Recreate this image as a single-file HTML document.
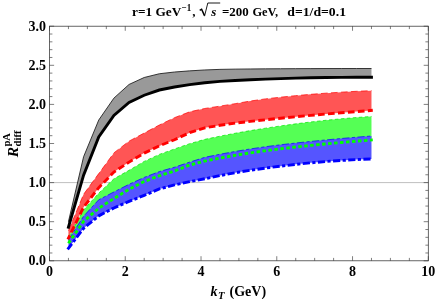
<!DOCTYPE html>
<html><head><meta charset="utf-8"><title>plot</title>
<style>
html,body{margin:0;padding:0;background:#fff;}
body{width:436px;height:299px;overflow:hidden;}
svg{display:block;will-change:transform;}
text{font-family:"Liberation Serif",serif;font-weight:bold;fill:#000;}
.t{font-size:14px;}
</style></head><body>
<svg width="436" height="299" viewBox="0 0 436 299">
<rect width="436" height="299" fill="#fff"/>
<line x1="49.50" y1="182.60" x2="428.30" y2="182.60" stroke="#aaaaaa" stroke-width="0.75"/>
<path d="M68.44 221.70 L83.59 156.79 L98.74 120.04 L113.90 98.14 L129.05 84.46 L144.20 77.50 L159.35 73.75 L174.50 72.03 L189.66 70.87 L204.81 69.96 L219.96 69.39 L235.11 69.14 L250.26 68.98 L265.42 68.85 L280.57 68.75 L295.72 68.67 L310.87 68.61 L326.02 68.56 L341.18 68.53 L356.33 68.51 L371.48 68.51 L371.48 77.19 L356.33 77.22 L341.18 77.33 L326.02 77.52 L310.87 77.78 L295.72 78.14 L280.57 78.59 L265.42 79.12 L250.26 79.75 L235.11 80.47 L219.96 81.36 L204.81 82.75 L189.66 84.65 L174.50 86.96 L159.35 90.01 L144.20 95.25 L129.05 102.52 L113.90 115.43 L98.74 136.85 L83.59 175.17 L68.44 227.17Z" fill="#999999" stroke="none"/>
<path d="M68.44 230.69 L83.59 194.33 L98.74 173.61 L113.90 152.88 L129.05 141.15 L144.20 133.05 L159.35 125.00 L174.50 117.66 L189.66 111.83 L204.81 108.48 L219.96 106.13 L235.11 103.68 L250.26 101.05 L265.42 98.88 L280.57 97.17 L295.72 95.65 L310.87 94.32 L326.02 93.16 L341.18 92.16 L356.33 91.32 L371.48 90.64 L371.48 110.42 L356.33 111.57 L341.18 112.77 L326.02 114.02 L310.87 115.34 L295.72 116.73 L280.57 118.20 L265.42 119.77 L250.26 121.36 L235.11 123.12 L219.96 125.27 L204.81 127.86 L189.66 132.67 L174.50 139.72 L159.35 145.88 L144.20 153.11 L129.05 162.11 L113.90 172.04 L98.74 187.68 L83.59 207.23 L68.44 238.12Z" fill="#ff5555" stroke="none"/>
<path d="M68.44 237.34 L83.59 209.97 L98.74 193.16 L113.90 178.85 L129.05 170.30 L144.20 161.40 L159.35 154.38 L174.50 149.00 L189.66 143.68 L204.81 139.37 L219.96 136.19 L235.11 133.28 L250.26 130.61 L265.42 128.19 L280.57 125.95 L295.72 123.86 L310.87 121.96 L326.02 120.27 L341.18 118.80 L356.33 117.54 L371.48 116.44 L371.48 139.98 L356.33 141.20 L341.18 142.50 L326.02 143.90 L310.87 145.40 L295.72 147.02 L280.57 148.78 L265.42 150.72 L250.26 152.89 L235.11 155.34 L219.96 158.05 L204.81 161.08 L189.66 165.04 L174.50 170.96 L159.35 175.75 L144.20 181.48 L129.05 189.30 L113.90 198.47 L98.74 208.25 L83.59 221.31 L68.44 243.21Z" fill="#55ff55" stroke="none"/>
<path d="M68.44 240.08 L83.59 216.23 L98.74 199.80 L113.90 191.98 L129.05 184.34 L144.20 177.41 L159.35 171.61 L174.50 167.20 L189.66 162.14 L204.81 157.33 L219.96 154.25 L235.11 151.47 L250.26 148.94 L265.42 146.73 L280.57 144.78 L295.72 143.02 L310.87 141.41 L326.02 139.91 L341.18 138.51 L356.33 137.21 L371.48 135.99 L371.48 158.91 L356.33 159.59 L341.18 160.44 L326.02 161.50 L310.87 162.82 L295.72 164.37 L280.57 166.15 L265.42 168.08 L250.26 170.26 L235.11 172.76 L219.96 175.61 L204.81 178.78 L189.66 181.67 L174.50 184.92 L159.35 188.96 L144.20 195.34 L129.05 201.43 L113.90 207.94 L98.74 215.84 L83.59 228.35 L68.44 248.29Z" fill="#5555ff" stroke="none"/>
<path d="M68.44 221.70 L83.59 156.79 L98.74 120.04 L113.90 98.14 L129.05 84.46 L144.20 77.50 L159.35 73.75 L174.50 72.03 L189.66 70.87 L204.81 69.96 L219.96 69.39 L235.11 69.14 L250.26 68.98 L265.42 68.85 L280.57 68.75 L295.72 68.67 L310.87 68.61 L326.02 68.56 L341.18 68.53 L356.33 68.51 L371.48 68.51" fill="none" stroke="#222222" stroke-width="0.9"/>
<path d="M68.44 230.69 L83.59 194.33 L98.74 173.61 L113.90 152.88 L129.05 141.15 L144.20 133.05 L159.35 125.00 L174.50 117.66 L189.66 111.83 L204.81 108.48 L219.96 106.13 L235.11 103.68 L250.26 101.05 L265.42 98.88 L280.57 97.17 L295.72 95.65 L310.87 94.32 L326.02 93.16 L341.18 92.16 L356.33 91.32 L371.48 90.64" fill="none" stroke="#ff0000" stroke-width="0.7" stroke-dasharray="6.7 3.3"/>
<path d="M68.44 237.34 L83.59 209.97 L98.74 193.16 L113.90 178.85 L129.05 170.30 L144.20 161.40 L159.35 154.38 L174.50 149.00 L189.66 143.68 L204.81 139.37 L219.96 136.19 L235.11 133.28 L250.26 130.61 L265.42 128.19 L280.57 125.95 L295.72 123.86 L310.87 121.96 L326.02 120.27 L341.18 118.80 L356.33 117.54 L371.48 116.44" fill="none" stroke="#00e800" stroke-width="0.7" stroke-dasharray="3.5 2.5"/>
<path d="M68.44 240.08 L83.59 216.23 L98.74 199.80 L113.90 191.98 L129.05 184.34 L144.20 177.41 L159.35 171.61 L174.50 167.20 L189.66 162.14 L204.81 157.33 L219.96 154.25 L235.11 151.47 L250.26 148.94 L265.42 146.73 L280.57 144.78 L295.72 143.02 L310.87 141.41 L326.02 139.91 L341.18 138.51 L356.33 137.21 L371.48 135.99" fill="none" stroke="#0000ff" stroke-width="0.7" stroke-dasharray="7.2 2.4 3.2 2.4"/>
<path d="M68.44 227.17 L83.59 175.17 L98.74 136.85 L113.90 115.43 L129.05 102.52 L144.20 95.25 L159.35 90.01 L174.50 86.96 L189.66 84.65 L204.81 82.75 L219.96 81.36 L235.11 80.47 L250.26 79.75 L265.42 79.12 L280.57 78.59 L295.72 78.14 L310.87 77.78 L326.02 77.52 L341.18 77.33 L356.33 77.22 L371.48 77.19" fill="none" stroke="#000000" stroke-width="2.9" stroke-linejoin="miter" stroke-linecap="square"/>
<path d="M67.87 239.29 L83.59 207.23 L98.74 187.68 L113.90 172.04 L129.05 162.11 L144.20 153.11 L159.35 145.88 L174.50 139.72 L189.66 132.67 L204.81 127.86 L219.96 125.27 L235.11 123.12 L250.26 121.36 L265.42 119.77 L280.57 118.20 L295.72 116.73 L310.87 115.34 L326.02 114.02 L341.18 112.77 L356.33 111.57 L372.78 110.32" fill="none" stroke="#ff0000" stroke-width="2.9" stroke-linejoin="miter" stroke-linecap="butt" stroke-dasharray="6.7 3.3" stroke-dashoffset="2.3"/>
<path d="M67.70 244.27 L83.59 221.31 L98.74 208.25 L113.90 198.47 L129.05 189.30 L144.20 181.48 L159.35 175.75 L174.50 170.96 L189.66 165.04 L204.81 161.08 L219.96 158.05 L235.11 155.34 L250.26 152.89 L265.42 150.72 L280.57 148.78 L295.72 147.02 L310.87 145.40 L326.02 143.90 L341.18 142.50 L356.33 141.20 L372.78 139.88" fill="none" stroke="#00ff00" stroke-width="2.9" stroke-linejoin="miter" stroke-linecap="butt" stroke-dasharray="3.5 2.5" stroke-dashoffset="-1.3"/>
<path d="M67.65 249.32 L83.59 228.35 L98.74 215.84 L113.90 207.94 L129.05 201.43 L144.20 195.34 L159.35 188.96 L174.50 184.92 L189.66 181.67 L204.81 178.78 L219.96 175.61 L235.11 172.76 L250.26 170.26 L265.42 168.08 L280.57 166.15 L295.72 164.37 L310.87 162.82 L326.02 161.50 L341.18 160.44 L356.33 159.59 L372.78 158.85" fill="none" stroke="#0000ff" stroke-width="2.9" stroke-linejoin="miter" stroke-linecap="butt" stroke-dasharray="7.2 2.4 3.2 2.4" stroke-dashoffset="0.3"/>
<rect x="49.50" y="26.20" width="378.80" height="234.60" fill="none" stroke="#333" stroke-width="0.75"/>
<path d="M49.50 260.80 v-4.60 M49.50 26.20 v4.60 M68.44 260.80 v-2.90 M68.44 26.20 v2.90 M87.38 260.80 v-2.90 M87.38 26.20 v2.90 M106.32 260.80 v-2.90 M106.32 26.20 v2.90 M125.26 260.80 v-4.60 M125.26 26.20 v4.60 M144.20 260.80 v-2.90 M144.20 26.20 v2.90 M163.14 260.80 v-2.90 M163.14 26.20 v2.90 M182.08 260.80 v-2.90 M182.08 26.20 v2.90 M201.02 260.80 v-4.60 M201.02 26.20 v4.60 M219.96 260.80 v-2.90 M219.96 26.20 v2.90 M238.90 260.80 v-2.90 M238.90 26.20 v2.90 M257.84 260.80 v-2.90 M257.84 26.20 v2.90 M276.78 260.80 v-4.60 M276.78 26.20 v4.60 M295.72 260.80 v-2.90 M295.72 26.20 v2.90 M314.66 260.80 v-2.90 M314.66 26.20 v2.90 M333.60 260.80 v-2.90 M333.60 26.20 v2.90 M352.54 260.80 v-4.60 M352.54 26.20 v4.60 M371.48 260.80 v-2.90 M371.48 26.20 v2.90 M390.42 260.80 v-2.90 M390.42 26.20 v2.90 M409.36 260.80 v-2.90 M409.36 26.20 v2.90 M428.30 260.80 v-4.60 M428.30 26.20 v4.60 M49.50 260.80 h4.60 M428.30 260.80 h-4.60 M49.50 252.98 h2.90 M428.30 252.98 h-2.90 M49.50 245.16 h2.90 M428.30 245.16 h-2.90 M49.50 237.34 h2.90 M428.30 237.34 h-2.90 M49.50 229.52 h2.90 M428.30 229.52 h-2.90 M49.50 221.70 h4.60 M428.30 221.70 h-4.60 M49.50 213.88 h2.90 M428.30 213.88 h-2.90 M49.50 206.06 h2.90 M428.30 206.06 h-2.90 M49.50 198.24 h2.90 M428.30 198.24 h-2.90 M49.50 190.42 h2.90 M428.30 190.42 h-2.90 M49.50 182.60 h4.60 M428.30 182.60 h-4.60 M49.50 174.78 h2.90 M428.30 174.78 h-2.90 M49.50 166.96 h2.90 M428.30 166.96 h-2.90 M49.50 159.14 h2.90 M428.30 159.14 h-2.90 M49.50 151.32 h2.90 M428.30 151.32 h-2.90 M49.50 143.50 h4.60 M428.30 143.50 h-4.60 M49.50 135.68 h2.90 M428.30 135.68 h-2.90 M49.50 127.86 h2.90 M428.30 127.86 h-2.90 M49.50 120.04 h2.90 M428.30 120.04 h-2.90 M49.50 112.22 h2.90 M428.30 112.22 h-2.90 M49.50 104.40 h4.60 M428.30 104.40 h-4.60 M49.50 96.58 h2.90 M428.30 96.58 h-2.90 M49.50 88.76 h2.90 M428.30 88.76 h-2.90 M49.50 80.94 h2.90 M428.30 80.94 h-2.90 M49.50 73.12 h2.90 M428.30 73.12 h-2.90 M49.50 65.30 h4.60 M428.30 65.30 h-4.60 M49.50 57.48 h2.90 M428.30 57.48 h-2.90 M49.50 49.66 h2.90 M428.30 49.66 h-2.90 M49.50 41.84 h2.90 M428.30 41.84 h-2.90 M49.50 34.02 h2.90 M428.30 34.02 h-2.90 M49.50 26.20 h4.60 M428.30 26.20 h-4.60" stroke="#3a3a3a" stroke-width="0.65" fill="none"/>
<text x="46" y="265.40" text-anchor="end" class="t">0.0</text>
<text x="46" y="226.30" text-anchor="end" class="t">0.5</text>
<text x="46" y="187.20" text-anchor="end" class="t">1.0</text>
<text x="46" y="148.10" text-anchor="end" class="t">1.5</text>
<text x="46" y="109.00" text-anchor="end" class="t">2.0</text>
<text x="46" y="69.90" text-anchor="end" class="t">2.5</text>
<text x="46" y="30.80" text-anchor="end" class="t">3.0</text>
<text x="49.50" y="276.3" text-anchor="middle" class="t">0</text>
<text x="125.26" y="276.3" text-anchor="middle" class="t">2</text>
<text x="201.02" y="276.3" text-anchor="middle" class="t">4</text>
<text x="276.78" y="276.3" text-anchor="middle" class="t">6</text>
<text x="352.54" y="276.3" text-anchor="middle" class="t">8</text>
<text x="428.30" y="276.3" text-anchor="middle" class="t">10</text>
<!-- title -->
<text x="132" y="16" font-size="13" textLength="49.3" lengthAdjust="spacingAndGlyphs">r=1 GeV</text>
<text x="181.6" y="10.6" font-size="9.5" textLength="9.6" lengthAdjust="spacingAndGlyphs">&#8722;1</text>
<text x="192.3" y="16" font-size="13">,</text>
<path d="M199.7 10.3 L201.6 9.2 L204.5 15.6" fill="none" stroke="#000" stroke-width="1.5" stroke-linejoin="miter"/>
<path d="M204.5 16.2 L207.8 3 H220.2" fill="none" stroke="#000" stroke-width="0.9" stroke-linejoin="miter"/>
<text x="211.2" y="16" font-size="13" font-style="italic">s</text>
<text x="222" y="16" font-size="13" textLength="26.8" lengthAdjust="spacingAndGlyphs">=200</text>
<text x="252.4" y="16" font-size="13" textLength="25.6" lengthAdjust="spacingAndGlyphs">GeV,</text>
<text x="287.3" y="16" font-size="13" textLength="58.7" lengthAdjust="spacingAndGlyphs">d=1/d=0.1</text>
<!-- x label -->
<text x="210.5" y="296" font-size="14" font-style="italic">k</text>
<text x="218" y="298.7" font-size="10.6" font-style="italic">T</text>
<text x="229.5" y="296" font-size="14">(GeV)</text>
<!-- y label -->
<text transform="translate(17.7,157.2) rotate(-90)" font-size="15.5" font-style="italic">R</text>
<g transform="translate(17.5,160) rotate(-90)">
<text x="13.4" y="-7.9" font-size="10.6">pA</text>
<text x="13.4" y="3.9" font-size="10.8">diff</text>
</g>
</svg>
</body></html>
